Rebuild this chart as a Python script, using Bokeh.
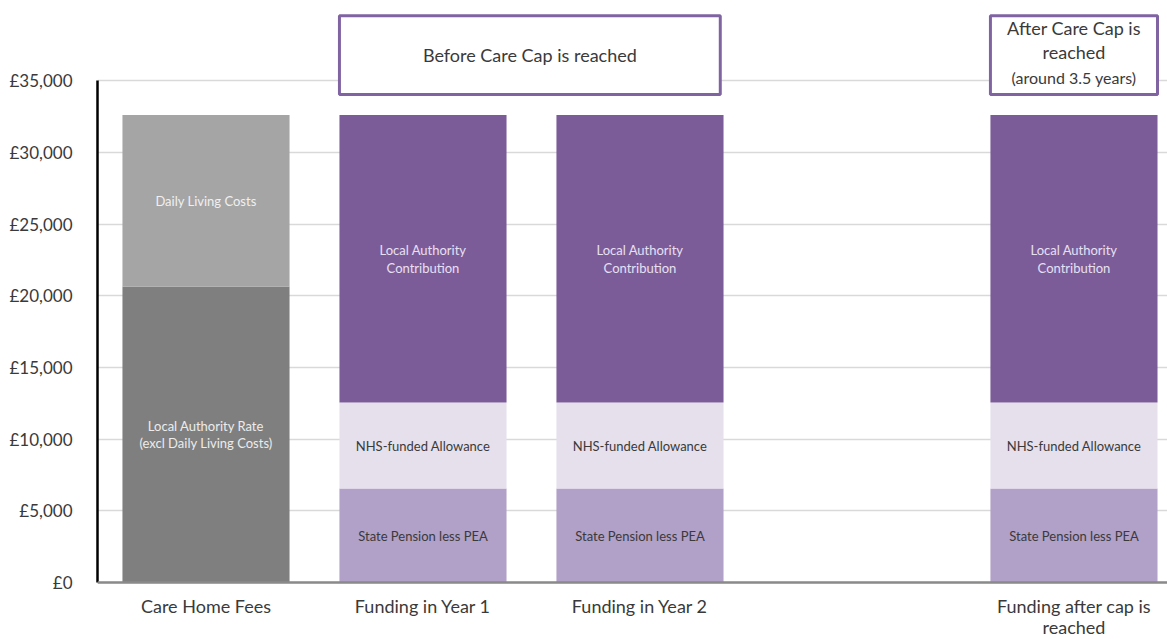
from bokeh.plotting import figure
from bokeh.models import FixedTicker, Range1d, ColumnDataSource, Span
from bokeh.core.properties import value
from bokeh.embed import file_html
from bokeh.resources import INLINE

# ---------------- data ----------------
categories = ["Care Home Fees", "Funding in Year 1", "Funding in Year 2", "",
              "Funding after cap is\nreached"]
la_rate = [20650, 0, 0, 0, 0]            # Local Authority Rate (excl Daily Living Costs)
daily_living = [11950, 0, 0, 0, 0]       # Daily Living Costs
state_pension = [0, 6550, 6550, 0, 6550] # State Pension less PEA
nhs_allowance = [0, 6000, 6000, 0, 6000] # NHS-funded Allowance
la_contrib = [0, 20050, 20050, 0, 20050] # Local Authority Contribution
y_ticks = [0, 5000, 10000, 15000, 20000, 25000, 30000, 35000]
y_tick_labels = ["£0", "£5,000", "£10,000", "£15,000", "£20,000", "£25,000", "£30,000", "£35,000"]
box_titles = ["Before Care Cap is reached", "After Care Cap is", "reached"]
box_subtitle = "(around 3.5 years)"

FONT = "Lato"
TXT = "#3a3a3a"
PX = 0.014343  # pixels per £ on the value axis

p = figure(width=1167, height=639, output_backend="svg", toolbar_location=None,
           x_range=Range1d(-0.5, 4.431), y_range=Range1d(-3975, 40586),
           x_axis_location=None,
           min_border_left=97, min_border_right=0, min_border_top=0, min_border_bottom=0)
p.outline_line_color = None
p.background_fill_color = "white"

# grid
p.xgrid.grid_line_color = None
p.ygrid.grid_line_color = "#d9d9d9"
p.ygrid.grid_line_width = 1.3

# y axis
p.yaxis.ticker = FixedTicker(ticks=y_ticks)
p.yaxis.bounds = (0, 35000)
p.yaxis.major_label_overrides = {t: l for t, l in zip(y_ticks, y_tick_labels)}
p.yaxis.axis_line_color = "black"
p.yaxis.axis_line_width = 2.5
p.yaxis.major_tick_line_color = None
p.yaxis.minor_tick_line_color = None
p.yaxis.major_label_text_font = FONT
p.yaxis.major_label_text_font_size = "17px"
p.yaxis.major_label_text_color = TXT
p.yaxis.major_label_standoff = 19

BW = 0.77
idx = [i for i, c in enumerate(categories) if c]

segments = [
    (la_rate, "#7f7f7f", "Local Authority Rate\n(excl Daily Living Costs)", "#ececec"),
    (daily_living, "#a5a5a5", "Daily Living Costs", "#f0f0f0"),
    (state_pension, "#b1a0c7", "State Pension less PEA", "#3a3a3a"),
    (nhs_allowance, "#e5e0ec", "NHS-funded Allowance", "#3a3a3a"),
    (la_contrib, "#7b5c99", "Local Authority\nContribution", "#e8e0f2"),
]

bottoms = [0] * len(categories)
for vals, color, label, lcol in segments:
    xs, b, t, mids = [], [], [], []
    for i in idx:
        if vals[i] > 0:
            xs.append(i)
            b.append(bottoms[i])
            t.append(bottoms[i] + vals[i])
            mids.append(bottoms[i] + vals[i] / 2)
            bottoms[i] += vals[i]
    src = ColumnDataSource(dict(x=xs, bottom=b, top=t, mid=mids, lab=[label] * len(xs)))
    p.vbar(x="x", bottom="bottom", top="top", width=BW, source=src,
           fill_color=color, line_color=None)
    p.text(x="x", y="mid", text="lab", source=src, text_align="center",
           text_baseline="middle", text_font=value(FONT), text_font_size="13px",
           text_color=lcol, text_line_height=1.1)

# category axis line and labels
p.add_layout(Span(location=0, dimension="width", line_color="#8a8a8a", line_width=2.5))
cat_src = ColumnDataSource(dict(x=idx, y=[-13 / PX] * len(idx), t=[categories[i] for i in idx]))
p.text(x="x", y="y", text="t", source=cat_src, text_align="center", text_baseline="top",
       text_font=value(FONT), text_font_size="18px", text_color=TXT, text_line_height=0.94)

# header boxes
box_bottom, box_top = 34024, 39531
left1, right1 = idx[1] - BW / 2, idx[2] + 0.37
left2, right2 = idx[3] - BW / 2, idx[3] + BW / 2
p.quad(left=[left1, left2], right=[right1, right2],
       bottom=[box_bottom] * 2, top=[box_top] * 2, fill_color="white",
       line_color="#8064a2", line_width=3)

p.text(x=[(left1 + right1) / 2], y=[(box_bottom + box_top) / 2], text=[box_titles[0]],
       text_align="center", text_baseline="middle", text_font=value(FONT),
       text_font_size="18px", text_color=TXT)
p.text(x=[idx[3], idx[3]], y=[box_top - 12 / PX, box_top - 36 / PX], text=box_titles[1:],
       text_align="center", text_baseline="middle", text_font=value(FONT),
       text_font_size="18px", text_color=TXT)
p.text(x=[idx[3]], y=[box_top - 62 / PX], text=[box_subtitle], text_align="center",
       text_baseline="middle", text_font=value(FONT), text_font_size="16px", text_color=TXT)

open("out.html", "w").write(file_html(p, INLINE))
